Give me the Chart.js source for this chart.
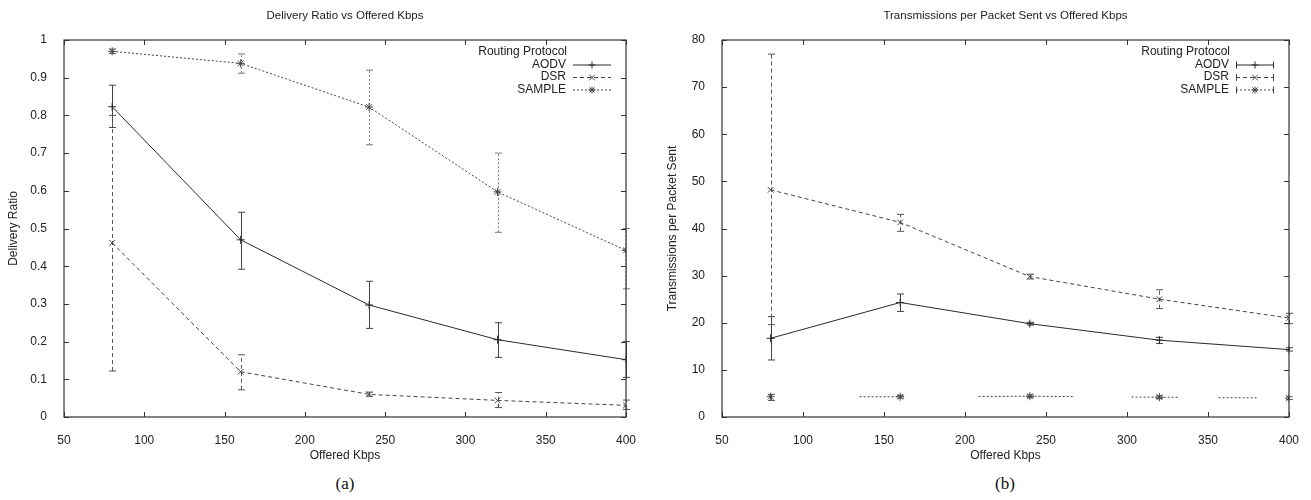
<!DOCTYPE html>
<html>
<head>
<meta charset="utf-8">
<script src="https://cdn.jsdelivr.net/npm/chart.js@4.4.1/dist/chart.umd.min.js"></script>
<style>
  body { margin: 0; background: #fff; width: 1311px; height: 500px; overflow: hidden; position: relative; }
  canvas { position: absolute; top: 0; }
  .caption { position: absolute; top: 474px; font-family: "Liberation Serif", "DejaVu Serif", serif; font-size: 17px; color: #111; transform: translateX(-50%); }
</style>
</head>
<body>
<canvas id="ratioChart" width="655" height="467" style="left:0px"></canvas>
<canvas id="txChart" width="652" height="467" style="left:659px"></canvas>
<div class="caption" style="left:345px">(a)</div>
<div class="caption" style="left:1005px">(b)</div>
<script>
// значения
const offeredKbps = [80, 160, 240, 320, 400];
const kbpsTicks = [50, 100, 150, 200, 250, 300, 350, 400];
const ratioTicks = [0, 0.1, 0.2, 0.3, 0.4, 0.5, 0.6, 0.7, 0.8, 0.9, 1];
const txTicks = [0, 10, 20, 30, 40, 50, 60, 70, 80];
const protocols = ['AODV', 'DSR', 'SAMPLE'];

// (a) Delivery Ratio
const aodvRatio = [0.823, 0.470, 0.297, 0.205, 0.152];
const aodvRatioLow = [0.768, 0.392, 0.235, 0.158, 0.105];
const aodvRatioHigh = [0.880, 0.543, 0.360, 0.250, 0.200];
const dsrRatio = [0.462, 0.120, 0.060, 0.044, 0.031];
const dsrRatioLow = [0.122, 0.072, 0.055, 0.025, 0.020];
const dsrRatioHigh = [0.800, 0.165, 0.066, 0.065, 0.045];
const sampleRatio = [0.970, 0.938, 0.822, 0.597, 0.442];
const sampleRatioLow = [0.964, 0.912, 0.722, 0.490, 0.340];
const sampleRatioHigh = [0.976, 0.963, 0.920, 0.700, 0.500];

// (b) Transmissions per Packet Sent
const aodvTx = [16.7, 24.3, 19.8, 16.3, 14.3];
const aodvTxLow = [12.1, 22.4, 19.5, 15.6, 14.0];
const aodvTxHigh = [21.3, 26.1, 20.1, 16.9, 14.7];
const dsrTx = [48.2, 41.3, 29.8, 25.0, 21.0];
const dsrTxLow = [19.6, 39.4, 29.3, 23.0, 19.8];
const dsrTxHigh = [77.0, 43.0, 30.3, 27.0, 22.0];
const sampleTx = [4.3, 4.3, 4.4, 4.2, 4.0];
const sampleTxLow = [3.5, 4.0, 4.1, 3.9, 3.7];
const sampleTxHigh = [4.8, 4.6, 4.7, 4.5, 4.3];

const FONT = '"Liberation Sans", Arial, sans-serif';
const INK = '#222';

// обрывистая точечная линия SAMPLE на (b): пропуск, точки, пропуск, ...
const sampleTxRuns = [89, 41, 75, 95, 57, 47, 39, 38, 40];

function brokenDots(runs) {
  const p = [0, runs[0]];
  for (let i = 1; i < runs.length; i += 2) {
    for (let d = 0; d < runs[i]; d += 4) p.push(2, 2);
    p[p.length - 1] += runs[i + 1] || 0;
  }
  return p;
}

// маркер в стиле gnuplot
function drawMarker(ctx, style, x, y, r) {
  ctx.beginPath();
  if (style === 'cross' || style === 'star') {
    ctx.moveTo(x - r, y); ctx.lineTo(x + r, y);
    ctx.moveTo(x, y - r); ctx.lineTo(x, y + r);
  }
  if (style === 'crossRot' || style === 'star') {
    const d = style === 'star' ? r * 0.75 : r * 0.8;
    ctx.moveTo(x - d, y - d); ctx.lineTo(x + d, y + d);
    ctx.moveTo(x - d, y + d); ctx.lineTo(x + d, y - d);
  }
  ctx.stroke();
}

// рамка, внутренние засечки, усы ошибок, заголовок и легенда
const gnuplotFrame = {
  id: 'gnuplotFrame',
  beforeDatasetsDraw(chart) {
    const { ctx, scales: { x, y } } = chart;
    ctx.save();
    ctx.lineWidth = 1;
    chart.data.datasets.forEach((ds) => {
      ctx.strokeStyle = ds.errColor;
      ds.data.forEach((pt, j) => {
        const px = Math.round(x.getPixelForValue(pt.x)) + 0.5;
        const lo = y.getPixelForValue(ds.errLow[j]);
        const hi = y.getPixelForValue(ds.errHigh[j]);
        ctx.setLineDash(ds.errDash);
        ctx.beginPath();
        ctx.moveTo(px, lo); ctx.lineTo(px, hi);
        ctx.stroke();
        ctx.setLineDash([]);
        ctx.beginPath();
        ctx.moveTo(px - 3.5, lo); ctx.lineTo(px + 3.5, lo);
        ctx.moveTo(px - 3.5, hi); ctx.lineTo(px + 3.5, hi);
        ctx.stroke();
      });
    });
    ctx.restore();
  },
  afterDraw(chart, args, opts) {
    const { ctx, chartArea: { left, right, top, bottom }, scales: { x, y } } = chart;
    ctx.save();
    ctx.strokeStyle = '#333';
    ctx.lineWidth = 1.2;
    ctx.strokeRect(left, top, right - left, bottom - top);

    ctx.lineWidth = 1;
    ctx.beginPath();
    x.ticks.forEach((t) => {
      const px = Math.round(x.getPixelForValue(t.value)) + 0.5;
      ctx.moveTo(px, bottom); ctx.lineTo(px, bottom - 5);
      ctx.moveTo(px, top); ctx.lineTo(px, top + 5);
    });
    y.ticks.forEach((t) => {
      const py = Math.round(y.getPixelForValue(t.value)) + 0.5;
      ctx.moveTo(left, py); ctx.lineTo(left + 5, py);
      ctx.moveTo(right, py); ctx.lineTo(right - 5, py);
    });
    ctx.stroke();

    // заголовок графика
    ctx.fillStyle = INK;
    ctx.font = '11.5px ' + FONT;
    ctx.textAlign = 'center';
    ctx.textBaseline = 'middle';
    ctx.fillText(opts.title, (left + right) / 2, 16);

    // легенда
    ctx.font = '12px ' + FONT;
    ctx.textAlign = 'right';
    const textX = right - 60;
    ctx.fillText(opts.legendTitle, textX + 1, top + 12);
    chart.data.datasets.forEach((ds, i) => {
      const ly = top + 24.5 + i * 12.5;
      ctx.fillStyle = INK;
      ctx.fillText(ds.label, textX, ly);
      const x0 = right - 53, x1 = right - 15;
      ctx.strokeStyle = ds.borderColor;
      ctx.lineWidth = 1;
      ctx.setLineDash(ds.legendDash || ds.borderDash);
      ctx.beginPath();
      ctx.moveTo(x0, ly + 0.5); ctx.lineTo(x1, ly + 0.5);
      ctx.stroke();
      ctx.setLineDash([]);
      if (opts.legendCaps) {
        ctx.beginPath();
        ctx.moveTo(x0 + 0.5, ly - 3); ctx.lineTo(x0 + 0.5, ly + 4);
        ctx.moveTo(x1 - 0.5, ly - 3); ctx.lineTo(x1 - 0.5, ly + 4);
        ctx.stroke();
      }
      drawMarker(ctx, ds.pointStyle, (x0 + x1) / 2, ly + 0.5, 3.5);
    });
    ctx.restore();
  },
};

function buildChart(canvasId, setup) {
  const ctx = document.getElementById(canvasId).getContext('2d');
  return new Chart(ctx, {
    type: 'line',
    data: {
      datasets: setup.series.map((s) => ({
        label: s.label,
        data: offeredKbps.map((k, i) => ({ x: k, y: s.values[i] })),
        errLow: s.low,
        errHigh: s.high,
        errColor: s.errColor,
        errDash: s.errDash,
        legendDash: s.legendDash,
        borderColor: s.color,
        backgroundColor: s.color,
        borderWidth: 1,
        borderDash: s.dash,
        pointStyle: s.marker,
        pointRadius: 4,
        pointBorderWidth: 1,
        pointBorderColor: s.color,
        tension: 0,
        fill: false,
      })),
    },
    options: {
      responsive: false,
      animation: false,
      events: [],
      layout: { padding: { top: 40, right: setup.padRight, left: 0, bottom: 0 } },
      plugins: {
        legend: { display: false },
        tooltip: { enabled: false },
        gnuplotFrame: { title: setup.title, legendTitle: 'Routing Protocol', legendCaps: setup.legendCaps },
      },
      scales: {
        x: {
          type: 'linear',
          min: 50,
          max: 400,
          grid: { display: false },
          border: { display: false },
          afterBuildTicks: (scale) => { scale.ticks = kbpsTicks.map((v) => ({ value: v })); },
          afterFit: (scale) => { scale.height = 50; },
          ticks: { padding: 8, color: INK, font: { family: FONT, size: 12 }, maxRotation: 0, callback: (v) => `${v}` },
          title: { display: true, text: 'Offered Kbps', color: INK, font: { family: FONT, size: 12 }, padding: { top: 4, bottom: 4 } },
        },
        y: {
          type: 'linear',
          min: setup.yTicks[0],
          max: setup.yTicks[setup.yTicks.length - 1],
          grid: { display: false },
          border: { display: false },
          afterBuildTicks: (scale) => { scale.ticks = setup.yTicks.map((v) => ({ value: v })); },
          afterFit: (scale) => { scale.width = setup.yWidth; },
          ticks: { padding: 9, color: INK, font: { family: FONT, size: 12 }, callback: (v) => `${v}` },
          title: { display: true, text: setup.yTitle, color: INK, font: { family: FONT, size: 12 }, padding: { top: 6, bottom: 4 } },
        },
      },
    },
    plugins: [gnuplotFrame],
  });
}

buildChart('ratioChart', {
  title: 'Delivery Ratio vs Offered Kbps',
  yTitle: 'Delivery Ratio',
  yTicks: ratioTicks,
  yWidth: 64,
  padRight: 29,
  legendCaps: false,
  series: [
    { label: protocols[0], values: aodvRatio, low: aodvRatioLow, high: aodvRatioHigh, color: '#2a2a2a', dash: [], errColor: '#444', errDash: [], marker: 'cross' },
    { label: protocols[1], values: dsrRatio, low: dsrRatioLow, high: dsrRatioHigh, color: '#444', dash: [4, 3], errColor: '#555', errDash: [4, 3], marker: 'crossRot' },
    { label: protocols[2], values: sampleRatio, low: sampleRatioLow, high: sampleRatioHigh, color: '#444', dash: [2, 2], errColor: '#777', errDash: [2, 2], marker: 'star' },
  ],
});

buildChart('txChart', {
  title: 'Transmissions per Packet Sent vs Offered Kbps',
  yTitle: 'Transmissions per Packet Sent',
  yTicks: txTicks,
  yWidth: 63,
  padRight: 22,
  legendCaps: true,
  series: [
    { label: protocols[0], values: aodvTx, low: aodvTxLow, high: aodvTxHigh, color: '#2a2a2a', dash: [], errColor: '#444', errDash: [], marker: 'cross' },
    { label: protocols[1], values: dsrTx, low: dsrTxLow, high: dsrTxHigh, color: '#444', dash: [4, 3], errColor: '#555', errDash: [4, 3], marker: 'crossRot' },
    { label: protocols[2], values: sampleTx, low: sampleTxLow, high: sampleTxHigh, color: '#444', dash: brokenDots(sampleTxRuns), legendDash: [2, 2], errColor: '#666', errDash: [], marker: 'star' },
  ],
});
</script>
</body>
</html>
